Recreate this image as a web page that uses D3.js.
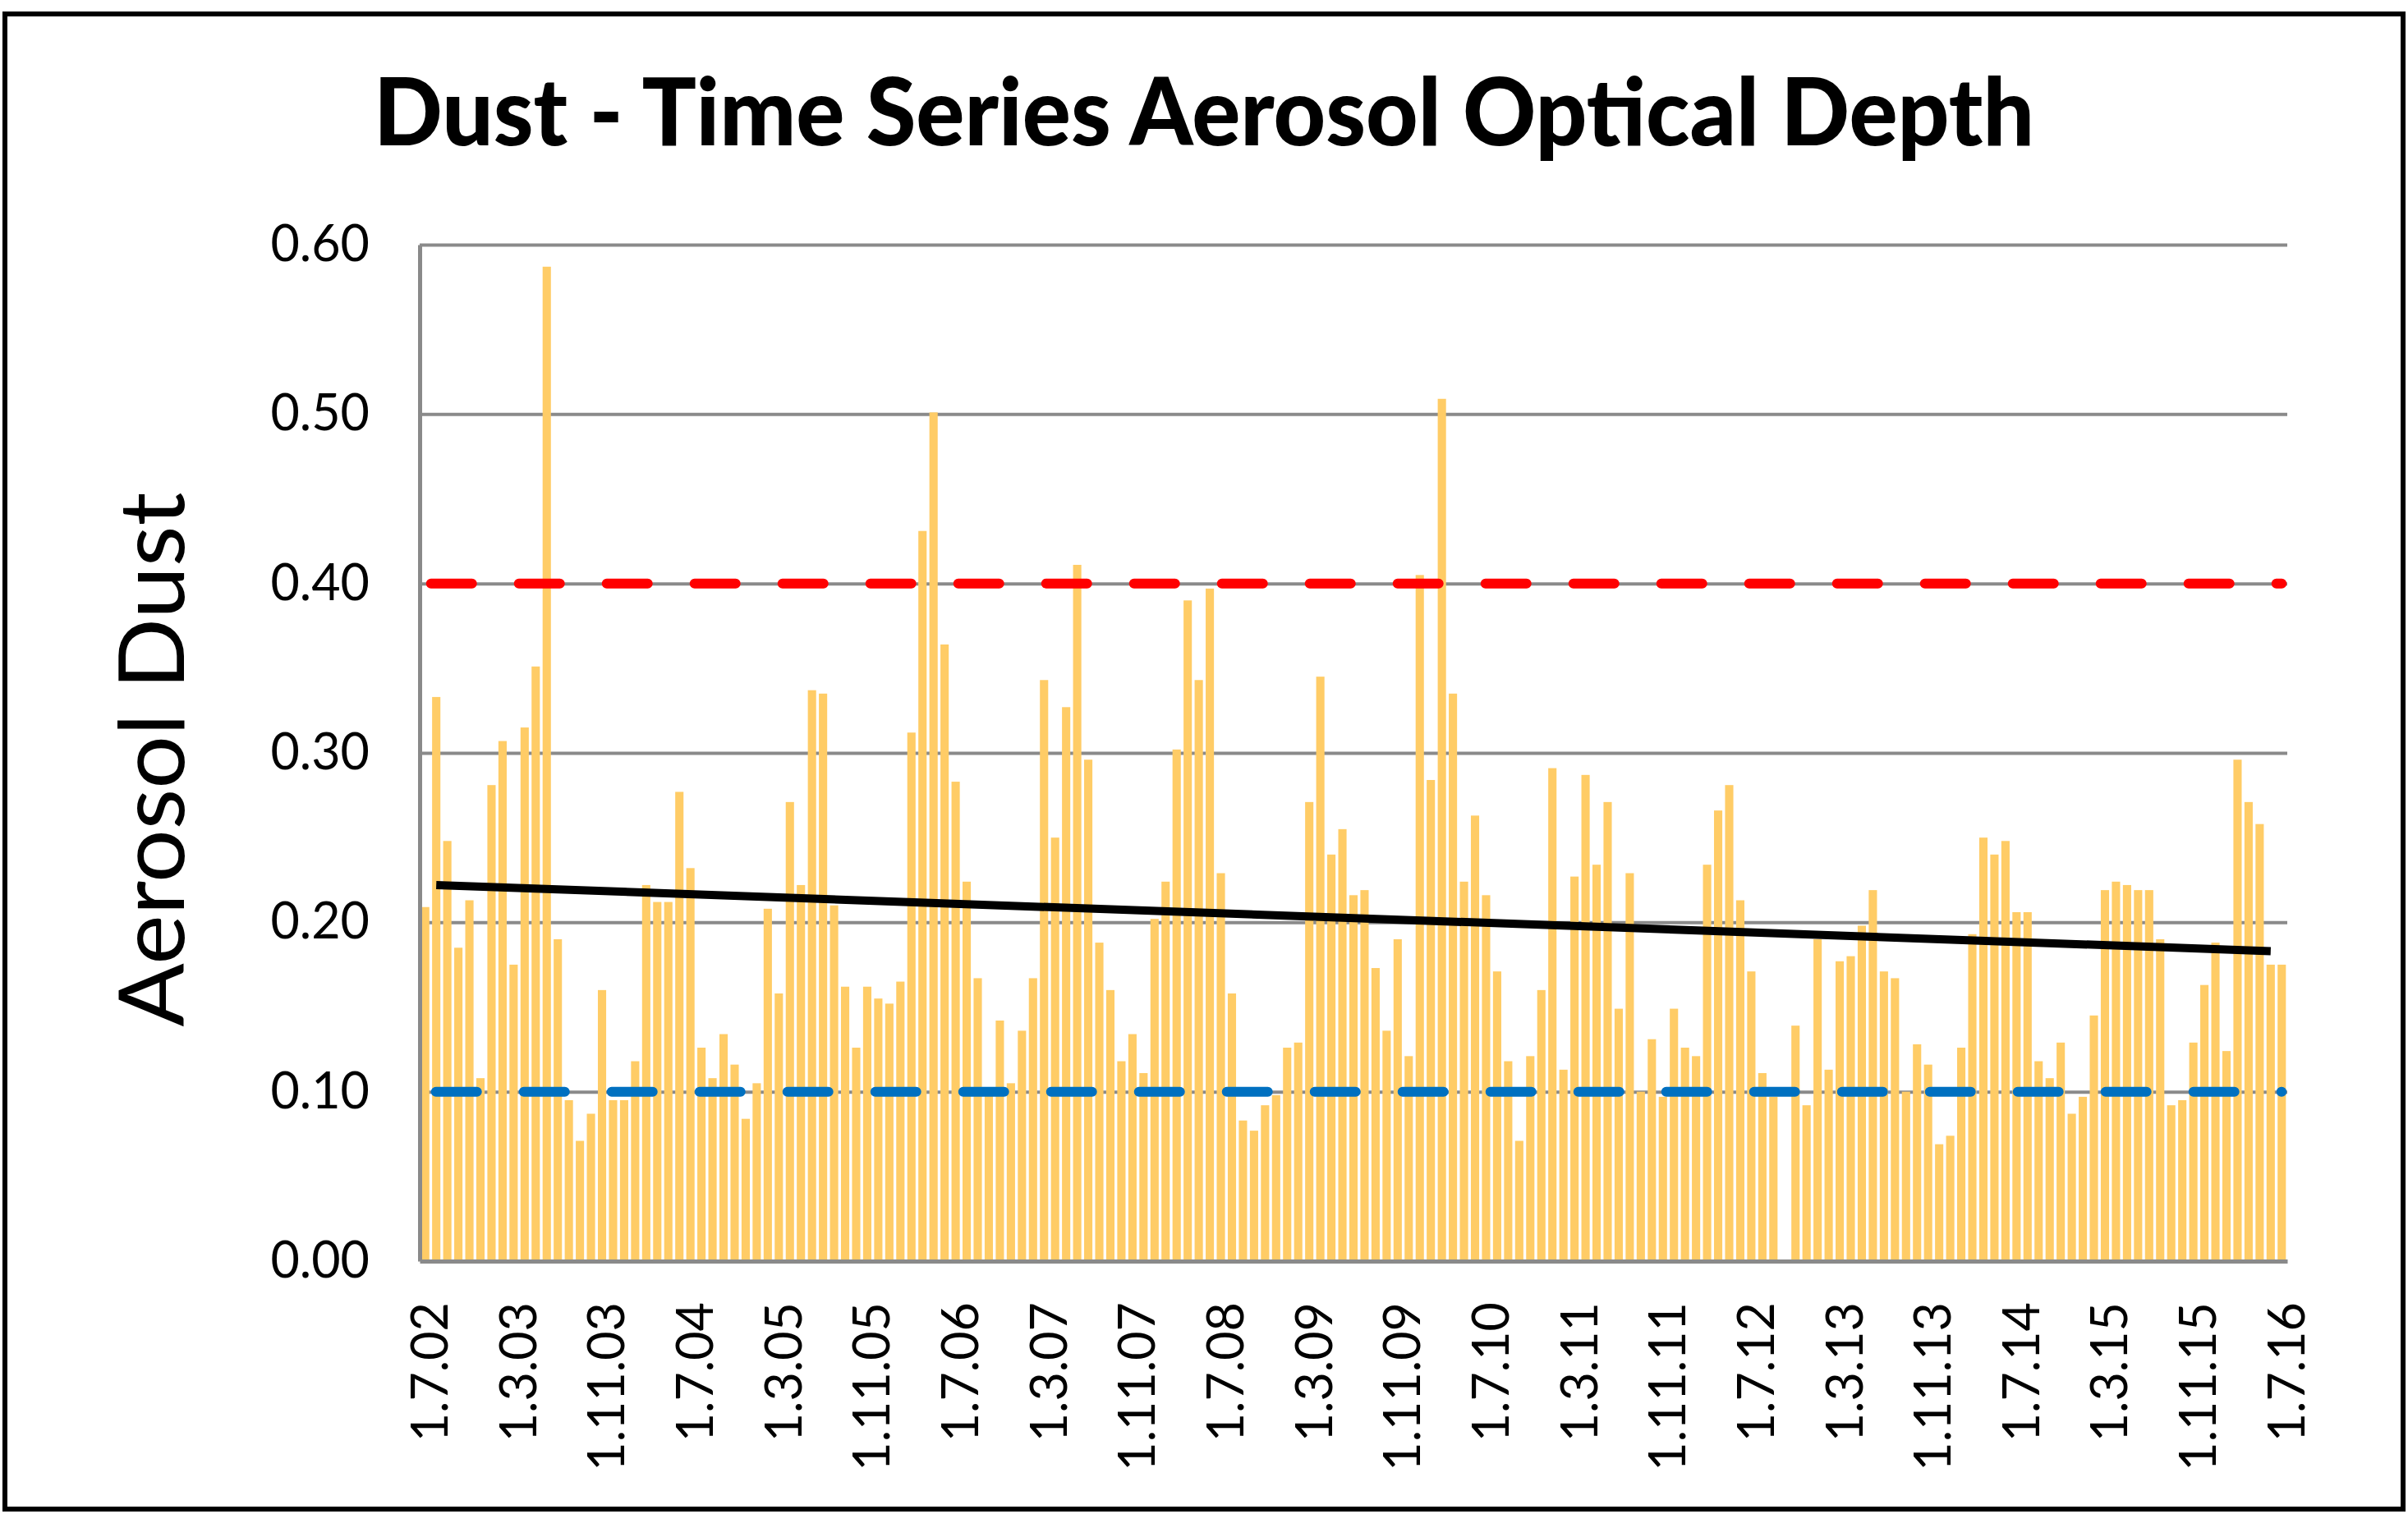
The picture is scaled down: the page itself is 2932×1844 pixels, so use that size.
<!DOCTYPE html>
<html>
<head>
<meta charset="utf-8">
<script src="https://cdn.jsdelivr.net/npm/d3@7"></script>
<style>
    body { margin: 0; background: #fff; }
    svg { display: block; }
</style>
</head>
<body>
<svg id="chart" width="2932" height="1844"></svg>
<script>
// Chart data
const chartTitle = "Dust - Time Series Aerosol Optical Depth";
const yTitle = "Aerosol Dust";

// first and last month of the series (one bar per month)
const firstMonth = new Date(2002, 6, 1),
    lastMonth = new Date(2016, 6, 1);

// monthly aerosol dust values, Jul 2002 .. Jul 2016 (null = no data)
const dustValues = [
    0.209, 0.333, 0.248, 0.185, 0.213, 0.108, 0.281, 0.307, 0.175, 0.315,
    0.351, 0.587, 0.190, 0.095, 0.071, 0.087, 0.160, 0.095, 0.095, 0.118,
    0.222, 0.212, 0.212, 0.277, 0.232, 0.126, 0.108, 0.134, 0.116, 0.084,
    0.105, 0.208, 0.158, 0.271, 0.222, 0.337, 0.335, 0.210, 0.162, 0.126,
    0.162, 0.155, 0.152, 0.165, 0.312, 0.431, 0.501, 0.364, 0.283, 0.224,
    0.167, 0.100, 0.142, 0.105, 0.136, 0.167, 0.343, 0.250, 0.327, 0.411,
    0.296, 0.188, 0.160, 0.118, 0.134, 0.111, 0.202, 0.224, 0.302, 0.390,
    0.343, 0.397, 0.229, 0.158, 0.083, 0.077, 0.092, 0.098, 0.126, 0.129,
    0.271, 0.345, 0.240, 0.255, 0.216, 0.219, 0.173, 0.136, 0.190, 0.121,
    0.405, 0.284, 0.509, 0.335, 0.224, 0.263, 0.216, 0.171, 0.118, 0.071,
    0.121, 0.160, 0.291, 0.113, 0.227, 0.287, 0.234, 0.271, 0.149, 0.229,
    0.100, 0.131, 0.097, 0.149, 0.126, 0.121, 0.234, 0.266, 0.281, 0.213,
    0.171, 0.111, 0.097, null, 0.139, 0.092, 0.190, 0.113, 0.177, 0.180,
    0.198, 0.219, 0.171, 0.167, 0.100, 0.128, 0.116, 0.069, 0.074, 0.126,
    0.193, 0.250, 0.240, 0.248, 0.206, 0.206, 0.118, 0.108, 0.129, 0.087,
    0.097, 0.145, 0.219, 0.224, 0.222, 0.219, 0.219, 0.190, 0.092, 0.095,
    0.129, 0.163, 0.188, 0.124, 0.296, 0.271, 0.258, 0.175, 0.175
];

// threshold lines
const upperLimit = 0.40,
    lowerLimit = 0.10;

// linear trend, drawn from its two end points
const trendMonths = [new Date(2002, 7, 1), new Date(2016, 5, 1)];
const trendValues = [0.222, 0.183];

// axis labels
const yTicks = [0, 0.1, 0.2, 0.3, 0.4, 0.5, 0.6];
const xTickLabels = [
    "1.7.02", "1.3.03", "1.11.03", "1.7.04", "1.3.05", "1.11.05", "1.7.06",
    "1.3.07", "1.11.07", "1.7.08", "1.3.09", "1.11.09", "1.7.10", "1.3.11",
    "1.11.11", "1.7.12", "1.3.13", "1.11.13", "1.7.14", "1.3.15", "1.11.15",
    "1.7.16"
];

// The svg
const svg = d3.select("#chart"),
    W = +svg.attr("width"),
    H = +svg.attr("height");

const plot = { left: 511, right: 2785, top: 298, bottom: 1536 };

const fmt = d3.timeFormat("%-d.%-m.%y");
const months = d3.timeMonth.range(firstMonth, d3.timeMonth.offset(lastMonth, 1));
const categories = months.map(fmt);
const data = months.map((m, i) => ({ label: categories[i], value: dustValues[i] }));

// Scales
const x = d3.scaleBand()
    .domain(categories)
    .range([plot.left, plot.right])
    .paddingInner(0.25)
    .paddingOuter(0.125);

const y = d3.scaleLinear()
    .domain([0, 0.6])
    .range([plot.bottom, plot.top]);

const cx = (label) => x(label) + x.bandwidth() / 2;

svg.append("rect").attr("width", W).attr("height", H).attr("fill", "#fff");

// outer frame
svg.append("rect")
    .attr("x", 6)
    .attr("y", 17)
    .attr("width", W - 12)
    .attr("height", H - 23)
    .attr("fill", "none")
    .attr("stroke", "#000")
    .attr("stroke-width", 6);

// title
svg.append("text")
    .attr("x", W / 2)
    .attr("y", 177)
    .attr("text-anchor", "middle")
    .attr("textLength", 2022)
    .attr("lengthAdjust", "spacingAndGlyphs")
    .style("font-family", "Lato, 'Open Sans', sans-serif")
    .style("font-weight", "900")
    .style("font-size", "114px")
    .style("fill", "#000")
    .text(chartTitle);

// gridlines
svg.append("g")
    .attr("transform", `translate(${plot.left},0)`)
    .call(d3.axisLeft(y).tickValues(yTicks.slice(1)).tickSize(-(plot.right - plot.left)).tickFormat(""))
    .call((g) => g.select(".domain").remove())
    .selectAll("line")
    .attr("stroke", "#8a8a8a")
    .attr("stroke-width", 4);

// bars
svg.append("g")
    .selectAll("rect")
    .data(data.filter((d) => d.value != null))
    .enter()
    .append("rect")
    .attr("x", (d) => x(d.label))
    .attr("y", (d) => y(d.value))
    .attr("width", x.bandwidth())
    .attr("height", (d) => y(0) - y(d.value))
    .attr("fill", "#ffcc66");

// threshold lines (dashed)
const limitLine = d3.line().x((d) => cx(d.label)).y((d) => y(d.value));

svg.append("path")
    .datum(data.map((d) => ({ label: d.label, value: upperLimit })))
    .attr("d", limitLine)
    .attr("fill", "none")
    .attr("stroke", "#ff0000")
    .attr("stroke-width", 12)
    .attr("stroke-linecap", "round")
    .attr("stroke-dasharray", "50,57")
    .attr("stroke-dashoffset", -7);

svg.append("path")
    .datum(data.map((d) => ({ label: d.label, value: lowerLimit })))
    .attr("d", limitLine)
    .attr("fill", "none")
    .attr("stroke", "#0070c0")
    .attr("stroke-width", 12)
    .attr("stroke-linecap", "round")
    .attr("stroke-dasharray", "50,57")
    .attr("stroke-dashoffset", -13);

// trend line
svg.append("path")
    .datum(trendMonths.map((m, i) => ({ label: fmt(m), value: trendValues[i] })))
    .attr("d", limitLine)
    .attr("fill", "none")
    .attr("stroke", "#000")
    .attr("stroke-width", 10);

// axes
const tickFont = (sel) =>
    sel.style("font-family", "Lato, 'Open Sans', sans-serif").style("font-size", "61px").style("fill", "#000");

svg.append("g")
    .attr("transform", `translate(${plot.left},0)`)
    .call(d3.axisLeft(y).tickValues(yTicks).tickSize(0).tickPadding(61).tickFormat(d3.format(".2f")))
    .call((g) => g.select(".domain").attr("stroke", "#8a8a8a").attr("stroke-width", 5))
    .selectAll("text")
    .call(tickFont);

svg.append("g")
    .attr("transform", `translate(0,${plot.bottom})`)
    .call(d3.axisBottom(x).tickValues(xTickLabels).tickSize(0))
    .call((g) => g.select(".domain").attr("stroke", "#8a8a8a").attr("stroke-width", 5))
    .selectAll("text")
    .attr("transform", "rotate(-90)")
    .attr("x", -50)
    .attr("y", 0)
    .attr("dy", "0.45em")
    .style("text-anchor", "end")
    .call(tickFont);

// y axis title
svg.append("text")
    .attr("transform", `translate(224,${(plot.top + plot.bottom) / 2 + 8}) rotate(-90)`)
    .attr("text-anchor", "middle")
    .attr("textLength", 651)
    .attr("lengthAdjust", "spacingAndGlyphs")
    .style("font-family", "Lato, 'Open Sans', sans-serif")
    .style("font-size", "110px")
    .style("fill", "#000")
    .text(yTitle);
</script>
</body>
</html>
